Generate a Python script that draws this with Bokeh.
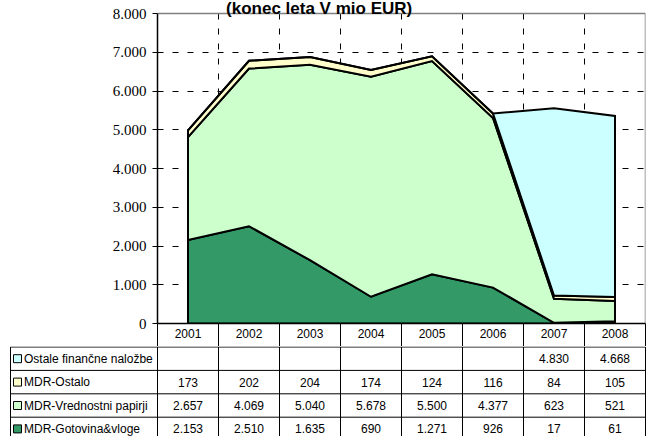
import numpy as np
from bokeh.plotting import figure
from bokeh.models import Range1d, FixedTicker
from bokeh.embed import file_html
from bokeh.resources import INLINE
from bokeh.core.properties import value

# ---- data ----
years = ["2001", "2002", "2003", "2004", "2005", "2006", "2007", "2008"]
gotovina = [2153, 2510, 1635, 690, 1271, 926, 17, 61]
vrednostni = [2657, 4069, 5040, 5678, 5500, 4377, 623, 521]
ostalo = [173, 202, 204, 174, 124, 116, 84, 105]
ostale = [None, None, None, None, None, None, 4830, 4668]
series_names = ["MDR-Gotovina&vloge", "MDR-Vrednostni papirji", "MDR-Ostalo", "Ostale finančne naložbe"]
y_ticks = [0, 1000, 2000, 3000, 4000, 5000, 6000, 7000, 8000]
y_tick_labels = ["0", "1.000", "2.000", "3.000", "4.000", "5.000", "6.000", "7.000", "8.000"]
title_text = "(konec leta  V mio EUR)"

colors = ["#339966", "#CCFFCC", "#FFFFCC", "#CCFFFF"]
n = len(years)
COL = 61.0          # px per category
LEFT = 157          # frame left px
TOP = 13            # px from canvas top to the 8.000 line
FH = 310            # px from 0 to 8.000
YMAX = 8000
YTOP = YMAX + TOP / FH * YMAX

# ---- chart ----
p = figure(width=658, height=346, x_range=Range1d(0, n), y_range=Range1d(0, YTOP),
           output_backend="svg", toolbar_location=None,
           min_border_left=LEFT, min_border_right=13, min_border_top=0, min_border_bottom=23)
p.background_fill_color = "white"
p.border_fill_color = "white"
p.outline_line_color = None

# y axis
p.yaxis.ticker = FixedTicker(ticks=y_ticks)
p.yaxis.bounds = (0, YMAX)
p.yaxis.major_label_overrides = dict(zip(y_ticks, y_tick_labels))
p.yaxis.minor_tick_line_color = None
p.yaxis.major_tick_out = 5
p.yaxis.major_tick_in = 0
p.yaxis.major_tick_line_color = "black"
p.yaxis.axis_line_color = "black"
p.yaxis.axis_line_width = 1.5
p.yaxis.major_label_standoff = 6
p.yaxis.major_label_text_font = "Liberation Serif"
p.yaxis.major_label_text_font_size = "15px"
p.yaxis.major_label_text_color = "black"

# x axis = header row of the data table
centers = [i + 0.5 for i in range(n)]
p.xaxis.ticker = FixedTicker(ticks=centers, minor_ticks=list(range(n + 1)))
p.xaxis.major_label_overrides = {c: y for c, y in zip(centers, years)}
p.xaxis.major_tick_out = 0
p.xaxis.major_tick_in = 0
p.xaxis.minor_tick_out = 23
p.xaxis.minor_tick_in = 0
p.xaxis.minor_tick_line_color = "black"
p.xaxis.minor_tick_line_width = 1
p.xaxis.axis_line_color = "black"
p.xaxis.axis_line_width = 1.5
p.xaxis.major_label_standoff = -18
p.xaxis.major_label_text_font = "Liberation Sans"
p.xaxis.major_label_text_font_size = "12px"
p.xaxis.major_label_text_color = "black"

# grids
p.xgrid.visible = False
p.ygrid.ticker = FixedTicker(ticks=y_ticks[1:-1])
p.ygrid.grid_line_color = "black"
p.ygrid.grid_line_dash = "6 9"
p.ygrid.grid_line_width = 1
vb = list(range(1, n))
p.segment(x0=vb, x1=vb, y0=[YMAX] * len(vb), y1=[0] * len(vb),
          line_color="black", line_dash="6 9", line_width=1)

# plot-area border (top and right)
p.segment(x0=[0, n], x1=[n, n], y0=[YMAX, YMAX], y1=[YMAX, 0],
          line_color="#808080", line_width=1.5)

# stacked areas
xs = np.arange(n) + 0.5
layers = [gotovina, vrednostni, ostalo, [0 if v is None else v for v in ostale]]
base = np.zeros(n)
for vals, c in zip(layers, colors):
    top = base + np.array(vals, dtype=float)
    p.patch(np.concatenate([xs, xs[::-1]]), np.concatenate([top, base[::-1]]),
            fill_color=c, line_color="black", line_width=2, line_join="miter")
    base = top

# title
p.text(x=[(321 - LEFT) / COL], y=[YMAX + (TOP - 8) / FH * YMAX], text=[title_text],
       text_align="center", text_baseline="alphabetic",
       text_font=value("Liberation Sans"), text_font_style="bold",
       text_font_size="17px", text_color="black")

# ---- data table ----
RH = 23.4
H2 = 90
lx0 = (10 - LEFT) / COL
t = figure(width=658, height=H2,
           x_range=Range1d((9 - LEFT) / COL, (646 - LEFT) / COL),
           y_range=Range1d((H2 - 0.5) / RH, -0.5 / RH),
           output_backend="svg", toolbar_location=None,
           x_axis_location=None, y_axis_location=None,
           min_border_left=9, min_border_right=12, min_border_top=0, min_border_bottom=0)
t.xgrid.visible = False
t.ygrid.visible = False
t.outline_line_color = None
t.background_fill_color = "white"
t.border_fill_color = "white"

nrows = 4
t.segment(x0=[lx0] * (nrows + 1), x1=[n] * (nrows + 1), y0=list(range(nrows + 1)), y1=list(range(nrows + 1)),
          line_color="black", line_width=1)
vx = [lx0] + list(range(n + 1))
t.segment(x0=vx, x1=vx, y0=[0] * len(vx), y1=[nrows] * len(vx), line_color="black", line_width=1)

table_rows = [(series_names[3], ostale, colors[3]),
              (series_names[2], ostalo, colors[2]),
              (series_names[1], vrednostni, colors[1]),
              (series_names[0], gotovina, colors[0])]

def fmt(v):
    return "" if v is None else f"{v:,}".replace(",", ".")

for r, (name, vals, c) in enumerate(table_rows):
    yc = r + 0.5
    t.scatter(x=[(17 - LEFT) / COL], y=[yc], marker="square", size=8,
              fill_color=c, line_color="black", line_width=1)
    t.text(x=[(23.5 - LEFT) / COL], y=[yc], text=[name], text_align="left", text_baseline="middle",
           text_font=value("Liberation Sans"), text_font_size="12px", text_color="black")
    t.text(x=centers, y=[yc] * n, text=[fmt(v) for v in vals], text_align="center",
           text_baseline="middle", text_font=value("Liberation Sans"), text_font_size="12px",
           text_color="black")

open("out.html", "w").write(file_html([p, t], INLINE))
